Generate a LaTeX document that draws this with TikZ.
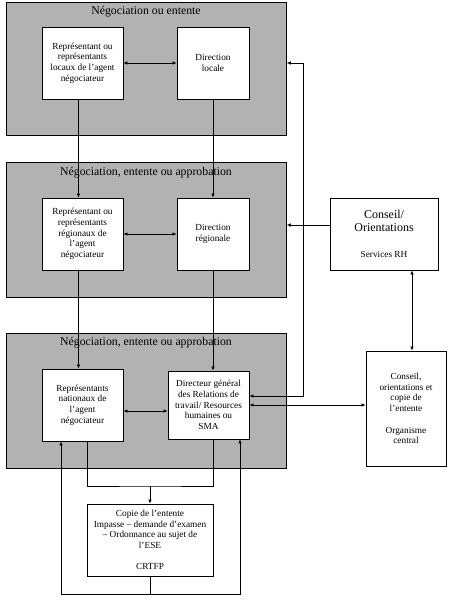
\documentclass[tikz,border=0pt]{standalone}
\usepackage{fontspec}
\setmainfont{Liberation Serif}
\usetikzlibrary{arrows.meta}

\begin{document}
\begin{tikzpicture}[x=1pt, y=-1pt, >={Latex[length=4pt,width=3.5pt]},
    panel/.style={draw, line width=0.8pt, fill=gray!60, anchor=north west, inner sep=0},
    titre/.style={font=\fontsize{11.8}{13}\selectfont},
    box/.style={draw, line width=0.8pt, fill=white, align=center, inner sep=0,
        font=\fontsize{9.3}{10.7}\selectfont},
    conn/.style={line width=0.7pt}]
    \useasboundingbox (0,0) rectangle (450,600);

    % Les trois paliers
    \node[panel, minimum width=280, minimum height=133] (p1) at (6,2) {};
    \node[panel, minimum width=280, minimum height=135] (p2) at (6,162) {};
    \node[panel, minimum width=280, minimum height=135] (p3) at (6,333) {};
    \node[titre] (t1) at (146,12) {Négociation ou entente};
    \node[titre] (t2) at (146,173) {Négociation, entente ou approbation};
    \node[titre] (t3) at (146,343) {Négociation, entente ou approbation};

    % Palier local
    \node[box, minimum width=81, minimum height=72] (repLoc) at (82.5,63)
        {Représentant ou\\représentants\\locaux de l’agent\\négociateur};
    \node[box, minimum width=72, minimum height=72] (dirLoc) at (213,63)
        {Direction\\locale};

    % Palier régional
    \node[box, minimum width=81, minimum height=72] (repReg) at (82.5,234)
        {Représentant ou\\représentants\\régionaux de\\l’agent\\négociateur};
    \node[box, minimum width=72, minimum height=72] (dirReg) at (213,234)
        {Direction\\régionale};

    % Palier national
    \node[box, minimum width=81, minimum height=72] (repNat) at (82.5,405)
        {Représentants\\nationaux de\\l’agent\\négociateur};
    \node[box, minimum width=81, minimum height=68] (dirGen) at (208.5,405)
        {Directeur général\\des Relations de\\travail/ Resources\\humaines ou\\SMA};

    % Boites de droite et du bas
    \node[box, minimum width=108, minimum height=72] (servRH) at (384,234)
        {\fontsize{12}{14}\selectfont Conseil/\\[2pt]\fontsize{12}{14}\selectfont Orientations\\[15pt]Services RH};
    \node[box, minimum width=80, minimum height=115] (orgC) at (406,408.5)
        {Conseil,\\orientations et\\copie de\\l’entente\\[10.7pt]Organisme\\central};
    \node[box, minimum width=126, minimum height=72] (crtfp) at (150,540)
        {Copie de l’entente\\Impasse – demande d’examen\\– Ordonnance au sujet de\\l’ESE\\[10.7pt]CRTFP};

    % Fleches dans les paliers
    \draw[conn, <->] (repLoc) -- (dirLoc);
    \draw[conn, <->] (repReg) -- (dirReg);
    \draw[conn, <->] ([yshift=-6pt]repNat.east) -- ([yshift=-6pt]repNat.east -| dirGen.west);

    % Fleches verticales entre paliers
    \draw[conn, ->] ([xshift=-4pt]repLoc.south) -- ([xshift=-4pt]repReg.north);
    \draw[conn, ->] (dirLoc.south) -- (dirReg.north);
    \draw[conn, ->] ([xshift=-4pt]repReg.south) -- ([xshift=-4pt]repNat.north);
    \draw[conn, ->] (dirReg.south) -- (dirReg.south |- dirGen.north);

    % Vers la CRTFP et retour
    \coordinate (merge) at (150,486);
    \coordinate (boucle) at (150,594);
    \draw[conn] ([xshift=4.5pt]repNat.south) |- (merge) -| ([xshift=4.5pt]dirGen.south);
    \draw[conn, ->] (merge) -- (crtfp.north);
    \draw[conn, ->] (crtfp.south) -- (boucle) -| ([xshift=-21.5pt]repNat.south);
    \draw[conn, ->] (boucle) -| ([xshift=31.5pt]dirGen.south);

    % Liens de droite
    \coordinate (railHaut) at (303,63);
    \coordinate (railBas) at (303,396);
    \draw[conn, <->] (p1.east |- railHaut) -- (railHaut) -- (railBas) -- (dirGen.east |- railBas);
    \coordinate (rhOut) at (330,225);
    \draw[conn, ->] (rhOut) -- (p2.east |- rhOut);
    \draw[conn, <->] ([xshift=28pt]servRH.south) -- ([xshift=6pt]orgC.north);
    \draw[conn, <->] (dirGen.east) -- (dirGen.east -| orgC.west);
\end{tikzpicture}
\end{document}
